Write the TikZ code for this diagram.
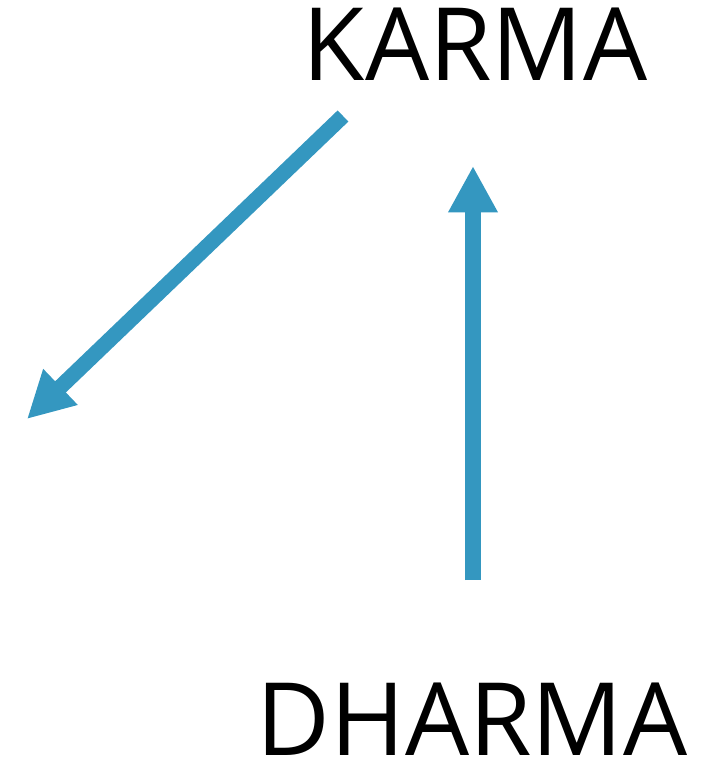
\documentclass[tikz,border=0pt]{standalone}
\usepackage{fontspec}
\setmainfont{Open Sans}
\usetikzlibrary{arrows.meta}

\definecolor{flowblue}{RGB}{52,151,192}

\begin{document}
\begin{tikzpicture}[x=0.025cm, y=-0.025cm,
  word/.style={inner sep=0pt, anchor=base, text depth=0pt, font=\fontsize{72}{72}\selectfont},
  flow/.style={line width=11pt, flowblue, -{Triangle[length=33pt, width=33pt]}}]
  \useasboundingbox (0,0) rectangle (716,761);

  % Words
  \node[word] (karma) at (475,81) {KARMA};
  \node[word] (dharma) at (472,755) {DHARMA};

  % Arrow ends
  \coordinate (karmaout) at (343,116);
  \coordinate (leftend) at (27,419);
  \coordinate (dharmaout) at (473,580);
  \coordinate (karmain) at (473,166);

  % Arrows
  \draw[flow] (karmaout) -- (leftend);
  \draw[flow] (dharmaout) -- (karmain);
\end{tikzpicture}
\end{document}
